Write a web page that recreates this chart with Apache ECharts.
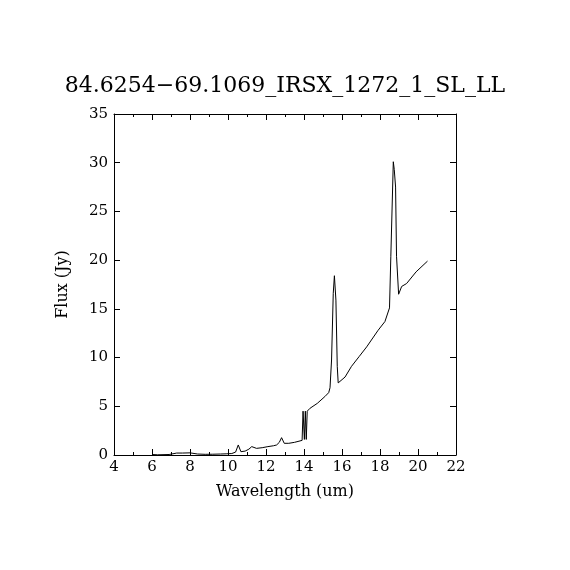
<!DOCTYPE html>
<html>
<head>
<meta charset="utf-8">
<script src="https://cdn.jsdelivr.net/npm/echarts@6/dist/echarts.min.js"></script>
<style>
  html, body { margin: 0; padding: 0; background: #fff; }
  #chart { width: 570px; height: 570px; }
</style>
</head>
<body>
<div id="chart"></div>
<script>
// spectrum
let wavelength = [6.0, 6.3, 6.9, 7.0, 7.3, 7.6, 8.0, 8.4, 8.8, 9.2, 9.6, 9.9, 10.2, 10.4, 10.54, 10.68, 10.9, 11.1, 11.25, 11.5, 11.8, 12.1, 12.4, 12.56, 12.7, 12.82, 12.96, 13.2, 13.5, 13.9, 13.95, 14.02, 14.07, 14.12, 14.17, 14.22, 14.32, 14.7, 15.1, 15.3, 15.37, 15.45, 15.54, 15.6, 15.68, 15.75, 15.8, 16.16, 16.5, 16.9, 17.3, 17.9, 18.26, 18.5, 18.57, 18.7, 18.75, 18.82, 18.87, 18.98, 19.14, 19.2, 19.4, 19.9, 20.5];
let flux = [0.05, 0.02, 0.05, 0.17, 0.2, 0.2, 0.22, 0.1, 0.07, 0.08, 0.1, 0.12, 0.15, 0.3, 1.03, 0.34, 0.4, 0.6, 0.86, 0.68, 0.75, 0.86, 0.95, 1.03, 1.3, 1.78, 1.2, 1.2, 1.3, 1.5, 4.5, 1.6, 4.5, 1.6, 4.5, 4.6, 4.8, 5.3, 6.0, 6.4, 6.9, 9.75, 16.6, 18.4, 15.9, 9.1, 7.4, 8.0, 9.1, 10.1, 11.1, 12.8, 13.7, 15.1, 20.4, 30.1, 29.3, 27.5, 20.4, 16.5, 17.3, 17.1, 17.6, 18.8, 19.9];
let xTicks = [4, 6, 8, 10, 12, 14, 16, 18, 20, 22];
let yTicks = [0, 5, 10, 15, 20, 25, 30, 35];

let points = wavelength.map(function (w, i) { return [w, flux[i]]; });
let font = 'DejaVu Serif';

function xAxisCfg(pos, showLabel) {
    return {
        type: 'value', position: pos, min: xTicks[0], max: xTicks[xTicks.length - 1], interval: 2,
        axisLine: { show: true, onZero: false, lineStyle: { color: '#000', width: 1 } },
        axisTick: { show: true, inside: true, length: 6, lineStyle: { color: '#000' } },
        minorTick: { show: true, splitNumber: 2, length: 3, lineStyle: { color: '#000' } },
        splitLine: { show: false },
        axisLabel: { show: showLabel, color: '#000', fontFamily: font, fontSize: 15, margin: 5 },
        name: showLabel ? 'Wavelength (um)' : '', nameLocation: 'middle', nameGap: 29,
        nameTextStyle: { color: '#000', fontFamily: font, fontSize: 16 }
    };
}
function yAxisCfg(pos, showLabel) {
    return {
        type: 'value', position: pos, min: yTicks[0], max: yTicks[yTicks.length - 1], interval: 5,
        axisLine: { show: true, onZero: false, lineStyle: { color: '#000', width: 1 } },
        axisTick: { show: true, inside: true, length: 6, lineStyle: { color: '#000' } },
        splitLine: { show: false },
        axisLabel: { show: showLabel, color: '#000', fontFamily: font, fontSize: 15, margin: 6 },
        name: showLabel ? 'Flux (Jy)' : '', nameLocation: 'middle', nameGap: 43,
        nameTextStyle: { color: '#000', fontFamily: font, fontSize: 16 }
    };
}

let option = {
    animation: false,
    backgroundColor: '#fff',
    title: {
        text: '84.6254\u221269.1069_IRSX_1272_1_SL_LL',
        left: 'center', top: 70,
        textStyle: { color: '#000', fontFamily: font, fontSize: 22, fontWeight: 'normal' }
    },
    grid: { left: 114, right: 114, top: 114, bottom: 115 },
    xAxis: [xAxisCfg('bottom', true), xAxisCfg('top', false)],
    yAxis: [yAxisCfg('left', true), yAxisCfg('right', false)],
    series: [{
        type: 'line', data: points, showSymbol: false,
        lineStyle: { color: '#000', width: 1 }
    }]
};

let myChart = echarts.init(document.getElementById('chart'));
myChart.setOption(option);
</script>
</body>
</html>
